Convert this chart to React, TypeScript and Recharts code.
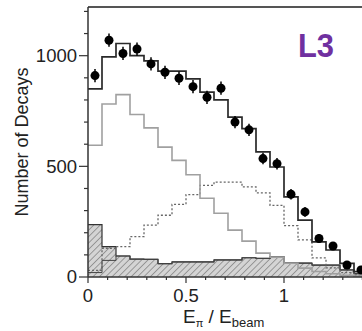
import { ComposedChart, Area, Line, Scatter, XAxis, YAxis, ReferenceLine, ErrorBar } from 'recharts'

// 20 bins of E_pi / E_beam, width 1/14
const BIN = 1 / 14

const dataPoints = [910, 1070, 1010, 1030, 963, 925, 898, 860, 812, 853, 700, 665, 535, 512, 374, 294, 174, 140, 54, 32]
const dataErr = [30, 30, 30, 30, 30, 30, 30, 30, 30, 30, 28, 28, 26, 26, 24, 22, 20, 18, 14, 12]

const totalMC = [850, 995, 1055, 1000, 977, 930, 930, 895, 835, 800, 722, 670, 565, 497, 362, 257, 159, 122, 62, 24]
const grayComp = [595, 782, 824, 734, 674, 587, 527, 462, 356, 288, 212, 162, 108, 90, 62, 40, 25, 15, 8, 4]
const dottedComp = [30, 130, 137, 182, 234, 279, 328, 372, 414, 429, 429, 407, 380, 324, 232, 168, 86, 41, 20, 8]
const hatchedBg = [237, 137, 95, 81, 80, 60, 68, 68, 68, 77, 77, 87, 84, 92, 63, 63, 54, 54, 32, 15]
const innerBg = [20, 75, 95, 81, 80, 60, 68, 68, 68, 77, 77, 87, 84, 92, 63, 63, 54, 54, 32, 15]

const xMajor = [0, 0.5, 1]
const xTicks = [0, 0.1, 0.2, 0.3, 0.4, 0.5, 0.6, 0.7, 0.8, 0.9, 1, 1.1, 1.2, 1.3, 1.4]
const yMajor = [0, 500, 1000]
const yTicks = [0, 100, 200, 300, 400, 500, 600, 700, 800, 900, 1000, 1100, 1200]

// histogram edges: one row per bin edge, last edge repeats the last bin
const histData = Array.from({ length: totalMC.length + 1 }, (_, i) => {
  const k = Math.min(i, totalMC.length - 1)
  return {
    x: i * BIN,
    total: totalMC[k],
    gray: grayComp[k],
    dotted: dottedComp[k],
    hatched: hatchedBg[k],
    inner: innerBg[k],
  }
})

const pointData = dataPoints.map((v, i) => ({ x: (i + 0.5) * BIN, y: v, err: dataErr[i] }))

function XTick({ x, y, payload }: any) {
  const major = xMajor.includes(payload.value)
  return (
    <g>
      <line x1={x} x2={x} y1={y} y2={y + (major ? 6 : 3)} stroke="#333" strokeWidth={1.2} />
      {major && (
        <text x={x} y={y + 25} textAnchor="middle" fontSize={18.5} fill="#222">
          {String(payload.value)}
        </text>
      )}
    </g>
  )
}

function YTick({ x, y, payload }: any) {
  const major = yMajor.includes(payload.value)
  return (
    <g>
      <line x1={x} x2={x - (major ? 9 : 4)} y1={y} y2={y} stroke="#333" strokeWidth={1.2} />
      {major && (
        <text x={x - 11} y={y} dy="0.35em" textAnchor="end" fontSize={18.5} fill="#222">
          {String(payload.value)}
        </text>
      )}
    </g>
  )
}

function XLabel({ viewBox }: any) {
  const x0 = viewBox.x + 95
  const y0 = viewBox.y + 46
  return (
    <text x={x0} y={y0} fontSize={19} fill="#222">
      E
      <tspan fontSize={11} dy={4}>π</tspan>
      <tspan fontSize={19} dy={-4}> / E</tspan>
      <tspan fontSize={13} dy={4}>beam</tspan>
    </text>
  )
}

function YLabel() {
  return (
    <text x={28} y={142} textAnchor="middle" fontSize={18} fill="#222" transform="rotate(-90, 28, 142)">
      Number of Decays
    </text>
  )
}

export default function App() {
  return (
    <div
      style={{
        position: 'absolute',
        left: 0,
        top: 0,
        width: 362,
        height: 331,
        overflow: 'hidden',
        background: '#fff',
        fontFamily: '"Liberation Sans", Arial, sans-serif',
      }}
    >
      <ComposedChart width={400} height={331} data={histData} margin={{ top: 7, right: 18, bottom: 0, left: 0 }}>
        <defs>
          <pattern id="hatch" width={4.5} height={4.5} patternUnits="userSpaceOnUse" patternTransform="rotate(45)">
            <rect width={4.5} height={4.5} fill="#d4d4d4" />
            <line x1={0} y1={0} x2={0} y2={4.5} stroke="#888" strokeWidth={1.6} />
          </pattern>
        </defs>
        <XAxis
          dataKey="x"
          type="number"
          domain={[0, 1.5]}
          ticks={xTicks}
          interval={0}
          tickSize={0}
          tickMargin={0}
          tickLine={false}
          tick={<XTick />}
          axisLine={{ stroke: '#333', strokeWidth: 1.5 }}
          height={54}
          label={{ content: (p: any) => <XLabel {...p} /> }}
        />
        <YAxis
          type="number"
          domain={[0, 1220]}
          ticks={yTicks}
          interval={0}
          tickSize={0}
          tickMargin={0}
          tickLine={false}
          tick={<YTick />}
          axisLine={{ stroke: '#333', strokeWidth: 1.5 }}
          width={88}
          label={{ content: () => <YLabel /> }}
        />
        <ReferenceLine y={1220} stroke="#555" strokeWidth={2} />
        <Area
          type="stepAfter"
          dataKey="hatched"
          stroke="#333"
          strokeWidth={1.2}
          fill="url(#hatch)"
          fillOpacity={1}
          dot={false}
          activeDot={false}
          isAnimationActive={false}
        />
        <Line type="stepAfter" dataKey="inner" stroke="#444" strokeWidth={1} dot={false} activeDot={false} isAnimationActive={false} />
        <Line type="stepAfter" dataKey="dotted" stroke="#666" strokeWidth={1.3} strokeDasharray="2 2" dot={false} activeDot={false} isAnimationActive={false} />
        <Line type="stepAfter" dataKey="gray" stroke="#a0a0a0" strokeWidth={1.6} dot={false} activeDot={false} isAnimationActive={false} />
        <Line type="stepAfter" dataKey="total" stroke="#2a2a2a" strokeWidth={1.7} dot={false} activeDot={false} isAnimationActive={false} />
        <Scatter data={pointData} dataKey="y" fill="#000" isAnimationActive={false}
          shape={(p: any) => <circle cx={p.cx} cy={p.cy} r={4.5} fill="#000" />}>
          <ErrorBar dataKey="err" direction="y" width={0} stroke="#000" strokeWidth={1.5} />
        </Scatter>
        <text x={298} y={57} fontSize={34} fontWeight="bold" fill="#7030A0" textLength={36} lengthAdjust="spacingAndGlyphs">
          L3
        </text>
      </ComposedChart>
    </div>
  )
}
